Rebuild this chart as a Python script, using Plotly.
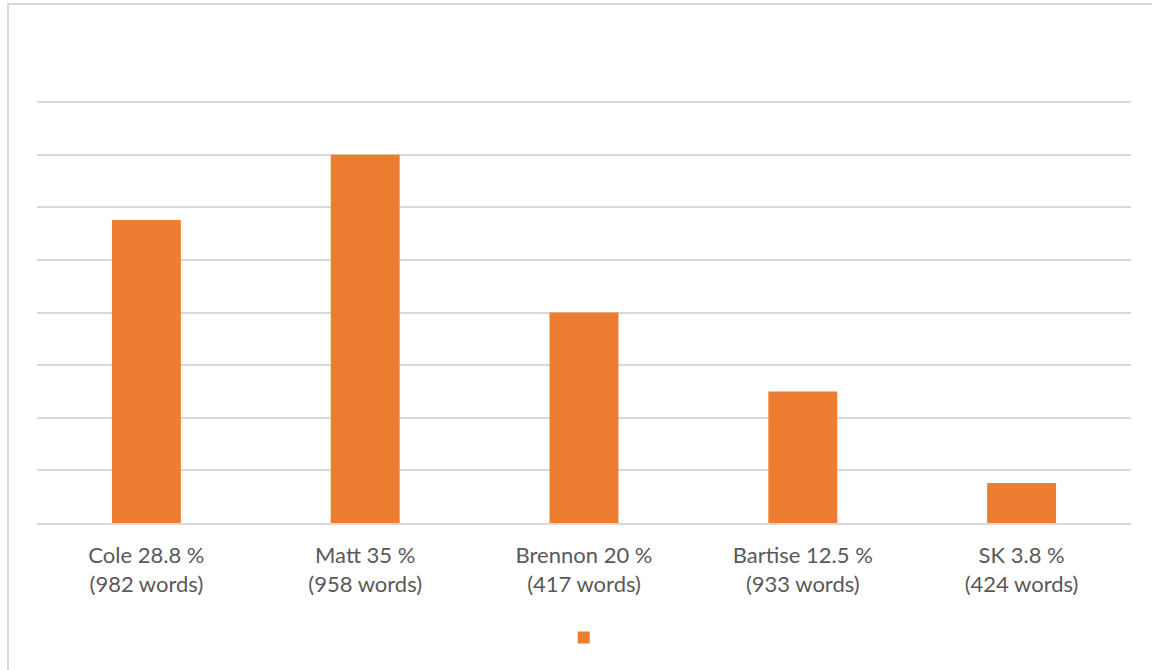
import plotly.graph_objects as go

categories = ["Cole 28.8 %<br>(982 words)", "Matt 35 %<br>(958 words)",
              "Brennon 20 %<br>(417 words)", "Bartise 12.5 %<br>(933 words)",
              "SK 3.8 %<br>(424 words)"]
values = [28.8, 35, 20, 12.5, 3.8]

W, H = 1152, 670
ml, mr, mt, mb = 37, 21, 101, 147

fig = go.Figure()
fig.add_trace(go.Bar(x=categories, y=values, name="", marker=dict(color="#ED7D31", line=dict(width=0)),
                     width=0.315, showlegend=True))

fig.update_layout(
    width=W, height=H,
    margin=dict(l=ml, r=mr, t=mt, b=mb),
    paper_bgcolor="white", plot_bgcolor="white",
    font=dict(family="Lato, Carlito, Calibri, sans-serif", color="#595959", size=22),
    showlegend=True,
    legend=dict(orientation="h", x=0.502, xanchor="center", y=(H - mb - 638) / (H - mt - mb), yanchor="middle",
                font=dict(size=14), bgcolor="rgba(0,0,0,0)"),
    xaxis=dict(showgrid=False, showline=True, linecolor="#d9d9d9", linewidth=2,
               ticks="outside", ticklen=12, tickcolor="rgba(0,0,0,0)"),
    yaxis=dict(range=[0, 40.1], tickvals=[5, 10, 15, 20, 25, 30, 35, 40], showgrid=True,
               gridcolor="#d9d9d9", gridwidth=2, showticklabels=False, zeroline=False),
    shapes=[dict(type="rect", xref="paper", yref="paper",
                 x0=(8 - ml) / (W - ml - mr), x1=(W + 20 - ml) / (W - ml - mr),
                 y0=(H - mb - (H + 20)) / (H - mt - mb), y1=(H - mb - 4) / (H - mt - mb),
                 line=dict(color="#d9d9d9", width=2), layer="below")],
)

fig.write_html("out.html")
